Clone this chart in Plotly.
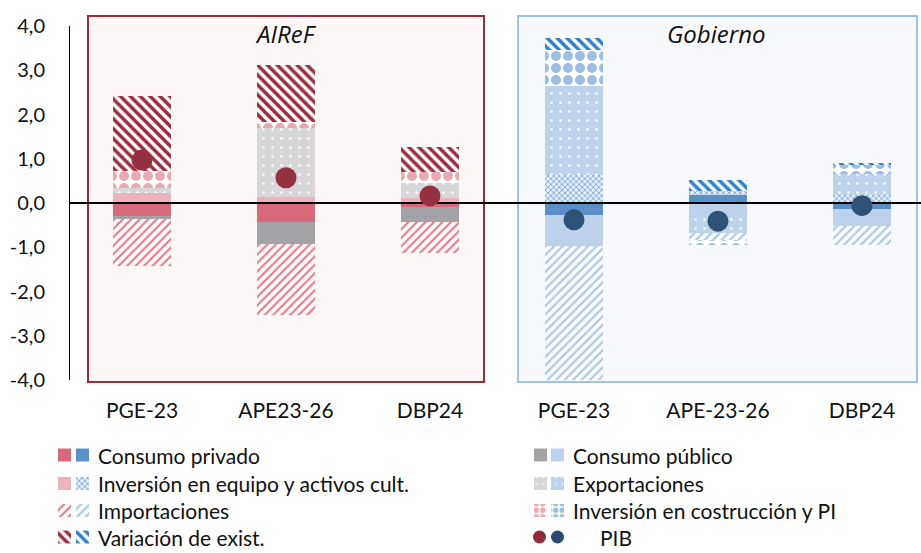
import plotly.graph_objects as go

# ---------------- data ----------------
categorias = ["PGE-23", "APE23-26", "DBP24", "PGE-23", "APE-23-26", "DBP24"]
# first 3 values: AIReF, last 3: Gobierno
consumo_privado = [-0.30, -0.44, -0.10, -0.26, 0.19, -0.13]
consumo_publico = [-0.07, -0.49, -0.32, -0.72, -0.26, -0.38]
inversion_equipo = [0.23, 0.14, 0.11, 0.64, 0.075, 0.20]
exportaciones = [0.10, 1.55, 0.34, 2.00, -0.42, 0.45]
importaciones = [-1.05, -1.60, -0.72, -3.12, -0.15, -0.45]
inversion_construccion = [0.39, 0.13, 0.26, 0.81, -0.11, 0.20]
variacion_exist = [1.69, 1.30, 0.56, 0.27, 0.26, 0.06]
pib = [0.97, 0.57, 0.16, -0.38, -0.41, -0.06]

y_ticks = [4, 3, 2, 1, 0, -1, -2, -3, -4]
y_tick_labels = ["4,0", "3,0", "2,0", "1,0", "0,0", "-1,0", "-2,0", "-3,0", "-4,0"]
panel_titles = ["AIReF", "Gobierno"]

# ---------------- styles ----------------
W, H = 921, 553
FONT = "Lato"
PL, PR, PT, PB = 70, 921, 26, 380
x_pos = list(range(len(categorias)))
x_range = [-0.5, 5.41]
BAR_W = 0.4


def solid(c):
    return dict(color=c, pattern=dict(shape=""))


def pat(shape, fg, bg, size, solidity):
    return dict(color=bg, pattern=dict(shape=shape, fgcolor=fg, bgcolor=bg,
                                       size=size, solidity=solidity, fillmode="replace"))


series = [
    ("Consumo privado", consumo_privado, solid("#d66a7a"), solid("#5b8fc8")),
    ("Consumo público", consumo_publico, solid("#a3a3a7"), solid("#bdd2ea")),
    ("Inversión en equipo y activos cult.", inversion_equipo, solid("#ebb3bb"),
     pat("x", "#6d9dd4", "#e4edf8", 4, 0.35)),
    ("Exportaciones", exportaciones, pat(".", "#ffffff", "#d7d7d9", 9, 0.06),
     pat(".", "#ffffff", "#bed2ea", 9, 0.06)),
    ("Importaciones", importaciones, pat("/", "#e27a89", "#fffafb", 6, 0.35),
     pat("/", "#a9c5e7", "#fbfcfe", 6, 0.35)),
    ("Inversión en costrucción y PI", inversion_construccion, pat(".", "#e9a9b3", "#ffffff", 12, 0.55),
     pat(".", "#9dbde2", "#ffffff", 12, 0.55)),
    ("Variación de exist.", variacion_exist, pat("\\", "#9b2b3e", "#ffffff", 7, 0.5),
     pat("\\", "#2b7fcf", "#ffffff", 7, 0.5)),
]

fig = go.Figure()

for name, vals, sa, sg in series:
    for xs, ys, st in ((x_pos[:3], vals[:3], sa), (x_pos[3:], vals[3:], sg)):
        m = dict(st)
        m["line"] = dict(width=0)
        fig.add_trace(go.Bar(x=xs, y=ys, width=BAR_W, marker=m, name=name,
                             showlegend=False, hoverinfo="skip", xaxis="x", yaxis="y"))

# zero line (drawn above bars, below PIB dots)
fig.add_trace(go.Scatter(x=x_range, y=[0, 0], mode="lines", line=dict(color="black", width=2),
                         showlegend=False, hoverinfo="skip", cliponaxis=False, xaxis="x", yaxis="y"))

fig.add_trace(go.Scatter(x=x_pos[:3], y=pib[:3], mode="markers", name="PIB",
                         marker=dict(size=21, color="#943244"), showlegend=False,
                         xaxis="x", yaxis="y"))
fig.add_trace(go.Scatter(x=x_pos[3:], y=pib[3:], mode="markers", name="PIB",
                         marker=dict(size=21, color="#2f5278"), showlegend=False,
                         xaxis="x", yaxis="y"))

# ---------------- custom legend (pixel coordinates on x2/y2) ----------------
rows_y = [455, 483.5, 510.5, 537]
left_sw = [(58, 71), (76, 89)]
right_sw = [(534, 547), (551, 564)]
SW = 13
LEG_SIZE = 21

legend_left = [series[0], series[2], series[4], series[6]]
legend_right = [series[1], series[3], series[5]]


def swatch(x0, x1, yc, st):
    y0, y1 = yc - SW / 2, yc + SW / 2
    p = dict(st["pattern"])
    kw = dict(x=[x0, x1, x1, x0, x0], y=[y0, y0, y1, y1, y0], fill="toself",
              fillcolor=st["color"], mode="lines", line=dict(width=0),
              showlegend=False, hoverinfo="skip", xaxis="x2", yaxis="y2")
    if p.get("shape"):
        if p.get("size", 0) > 8:
            p["size"] = 6.5
        kw["fillpattern"] = p
    fig.add_trace(go.Scatter(**kw))


annotations = []
for i, (name, _, sa, sg) in enumerate(legend_left):
    swatch(left_sw[0][0], left_sw[0][1], rows_y[i], sa)
    swatch(left_sw[1][0], left_sw[1][1], rows_y[i], sg)
    annotations.append(dict(x=96, y=rows_y[i], xref="x2", yref="y2", text=name, showarrow=False,
                            xanchor="left", yanchor="middle",
                            font=dict(family=FONT, size=LEG_SIZE, color="#111")))
for i, (name, _, sa, sg) in enumerate(legend_right):
    swatch(right_sw[0][0], right_sw[0][1], rows_y[i], sa)
    swatch(right_sw[1][0], right_sw[1][1], rows_y[i], sg)
    annotations.append(dict(x=571, y=rows_y[i], xref="x2", yref="y2", text=name, showarrow=False,
                            xanchor="left", yanchor="middle",
                            font=dict(family=FONT, size=LEG_SIZE, color="#111")))

fig.add_trace(go.Scatter(x=[539.5, 557.5], y=[rows_y[3], rows_y[3]], mode="markers",
                         marker=dict(size=13, color=["#8e2a3a", "#2b4a70"]),
                         showlegend=False, hoverinfo="skip", xaxis="x2", yaxis="y2"))
annotations.append(dict(x=598, y=rows_y[3], xref="x2", yref="y2", text="PIB", showarrow=False,
                        xanchor="left", yanchor="middle",
                        font=dict(family=FONT, size=LEG_SIZE, color="#111")))

# panel titles
for t, xc in zip(panel_titles, [286, 716]):
    annotations.append(dict(x=xc / W, y=1 - 33 / H, xref="paper", yref="paper", text="<i>" + t + "</i>",
                            showarrow=False, xanchor="center", yanchor="middle",
                            font=dict(family="Open Sans", size=24, color="#111")))

shapes = [
    dict(type="rect", xref="paper", yref="paper", x0=88 / W, x1=484 / W, y0=1 - 382 / H, y1=1 - 16 / H,
         fillcolor="#fdf7f8", line=dict(color="#a3283b", width=2), layer="below"),
    dict(type="rect", xref="paper", yref="paper", x0=518 / W, x1=917 / W, y0=1 - 382 / H, y1=1 - 16 / H,
         fillcolor="#f7f9fd", line=dict(color="#9dc3e6", width=2), layer="below"),
]

fig.update_layout(
    template="none",
    width=W, height=H, autosize=False,
    margin=dict(l=0, r=0, t=0, b=0, pad=0, autoexpand=False),
    paper_bgcolor="white", plot_bgcolor="rgba(0,0,0,0)",
    barmode="relative", bargap=0,
    showlegend=False,
    font=dict(family=FONT, size=20, color="#111"),
    xaxis=dict(domain=[PL / W, PR / W], range=x_range, tickmode="array", tickvals=x_pos,
               ticktext=categorias, showline=False, showgrid=False, zeroline=False, ticks="",
               tickfont=dict(family=FONT, size=21, color="#111"), ticklabelstandoff=16,
               fixedrange=True, anchor="y", automargin=False),
    yaxis=dict(domain=[1 - PB / H, 1 - PT / H], range=[-4, 4], tickmode="array", tickvals=y_ticks,
               ticktext=y_tick_labels, showline=True, linecolor="black", linewidth=1,
               showgrid=False, zeroline=False, ticks="",
               tickfont=dict(family=FONT, size=20, color="#111"), ticklabelstandoff=20,
               fixedrange=True, anchor="x", automargin=False),
    xaxis2=dict(domain=[0, 1], range=[0, W], visible=False, anchor="y2", fixedrange=True,
                automargin=False),
    yaxis2=dict(domain=[0, 1], range=[H, 0], visible=False, anchor="x2", fixedrange=True,
                automargin=False),
    annotations=annotations,
    shapes=shapes,
)

fig.write_html("out.html", config={"displayModeBar": False},
               post_script="document.body.style.margin='0px';document.body.style.overflow='hidden';")
